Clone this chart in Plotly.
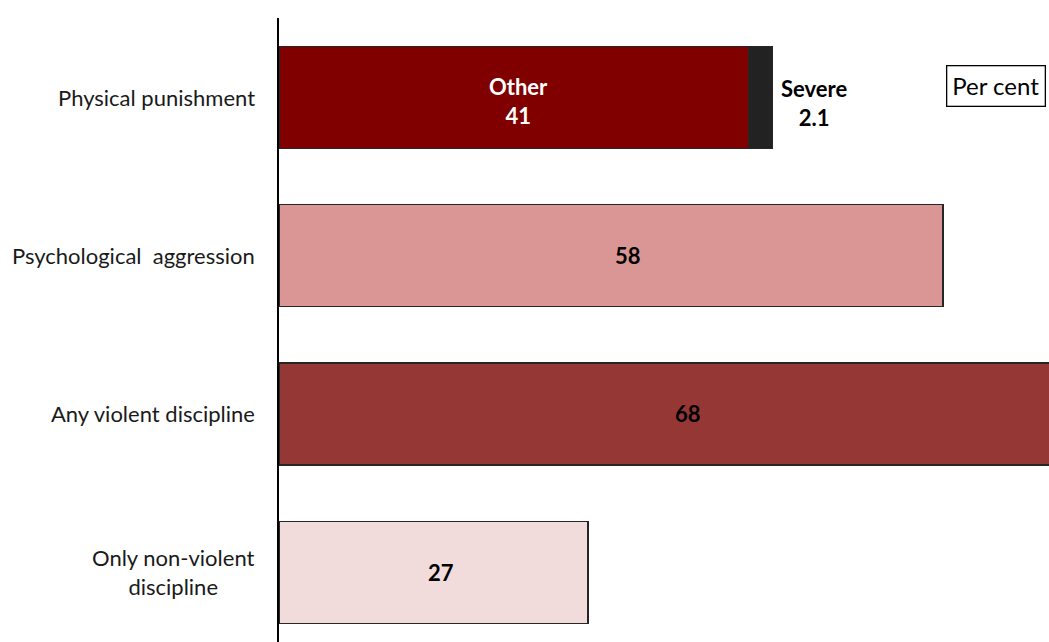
import plotly.graph_objects as go

categories = ["Physical punishment", "Psychological  aggression", "Any violent discipline", "Only non-violent<br>discipline"]
main_values = [41, 58, 68, 27]
main_colors = ["#800000", "#DA9694", "#953735", "#F2DCDB"]
main_text_colors = ["white", "black", "black", "black"]
severe_values = [2.1, None, None, None]
severe_color = "#222222"
unit_label = "Per cent"

FONT = "Lato, 'Open Sans', sans-serif"
idx = list(range(len(categories)))

fig = go.Figure()
fig.add_trace(go.Bar(
    y=idx, x=main_values, orientation="h",
    marker=dict(color=main_colors, line=dict(color="#262626", width=1.3)),
    width=0.644, hoverinfo="skip", showlegend=False,
))
fig.add_trace(go.Bar(
    y=idx, x=severe_values, orientation="h",
    marker=dict(color=severe_color, line=dict(color="#262626", width=1.3)),
    width=0.644, hoverinfo="skip", showlegend=False,
))

annotations = []
for i, (cat, v, tc) in enumerate(zip(categories, main_values, main_text_colors)):
    label = f"{v}"
    frac = 0.525
    ys = 0
    if i == 0:
        label = f"Other<br>{v}"
        frac = 0.51
        ys = -4
    annotations.append(dict(
        x=v * frac, y=i, xref="x", yref="y", text=f"<b>{label}</b>", yshift=ys,
        showarrow=False, font=dict(family=FONT, size=22, color=tc), align="center",
    ))
    annotations.append(dict(
        x=0, y=i, xref="x", yref="y", text=cat, xanchor="right", xshift=-22,
        showarrow=False, font=dict(family=FONT, size=22, color="#1a1a1a"), align="center",
    ))

# severe label outside bar
annotations.append(dict(
    x=main_values[0] + severe_values[0], y=0, xref="x", yref="y",
    text=f"<b>Severe<br>{severe_values[0]}</b>", xanchor="left", xshift=7, yshift=-6,
    showarrow=False, font=dict(family=FONT, size=22, color="black"), align="center",
))
annotations.append(dict(
    x=0.866, y=0.891, xref="paper", yref="paper", xanchor="left", yanchor="middle",
    text=unit_label, showarrow=False, font=dict(family=FONT, size=24, color="black"),
    bordercolor="black", borderwidth=1.3, borderpad=5, bgcolor="white",
))

fig.update_layout(
    barmode="stack",
    width=1049, height=642,
    margin=dict(l=279, r=0, t=18, b=0),
    plot_bgcolor="white", paper_bgcolor="white",
    annotations=annotations,
    xaxis=dict(range=[0, 67.25], showgrid=False, zeroline=False, showticklabels=False, showline=False, fixedrange=True),
    yaxis=dict(range=[3.44, -0.5], showgrid=False, zeroline=False, showticklabels=False,
               showline=True, linecolor="black", linewidth=1.5, ticks="", fixedrange=True),
)

fig.write_html("out.html", config={"displayModeBar": False},
               post_script="document.body.style.margin='0px';document.body.style.overflow='hidden';")
